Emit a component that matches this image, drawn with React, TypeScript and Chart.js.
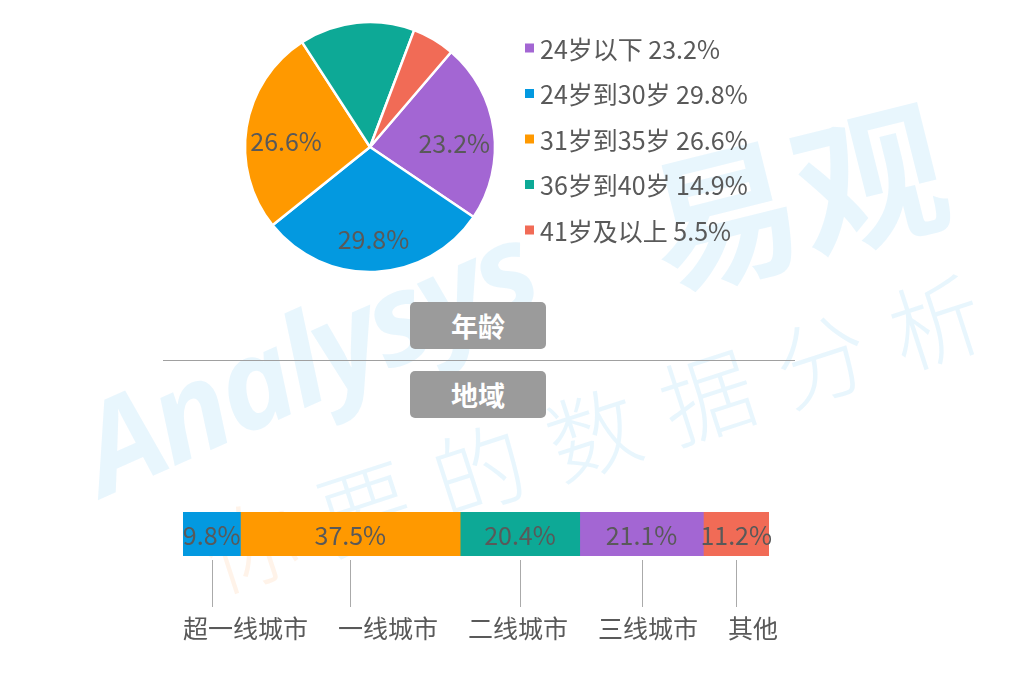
import React, { useEffect, useRef } from "react";
import { Chart, registerables } from "chart.js";

Chart.register(...registerables);

// ---------- data ----------
const ageLabels = ["24岁以下", "24岁到30岁", "31岁到35岁", "36岁到40岁", "41岁及以上"];
const ageValues = [23.2, 29.8, 26.6, 14.9, 5.5];
const ageColors = ["#A366D3", "#0399E0", "#FF9900", "#0DA996", "#F16B56"];
const ageLabelShown = [true, true, true, false, false];

const regionLabels = ["超一线城市", "一线城市", "二线城市", "三线城市", "其他"];
const regionValues = [9.8, 37.5, 20.4, 21.1, 11.2];
const regionColors = ["#0399E0", "#FF9900", "#0DA996", "#A366D3", "#F16B56"];

const sectionTitles = ["年龄", "地域"];

const FONT = '"Microsoft YaHei", "Noto Sans CJK SC", "Noto Sans", sans-serif';
const TEXT = "#595959";

const pieExtras = {
  id: "pieExtras",
  afterDatasetsDraw(chart: any) {
    const ctx = chart.ctx;
    const meta = chart.getDatasetMeta(0);
    ctx.save();
    ctx.font = `25px ${FONT}`;
    ctx.fillStyle = TEXT;
    ctx.textAlign = "center";
    ctx.textBaseline = "middle";
    let cx = 0;
    let cy = 0;
    meta.data.forEach((arc: any, i: number) => {
      const p = arc.getProps(["x", "y", "startAngle", "endAngle", "outerRadius"], true);
      cx = p.x;
      cy = p.y;
      if (!ageLabelShown[i]) return;
      const mid = (p.startAngle + p.endAngle) / 2;
      const r = p.outerRadius * 0.68;
      ctx.fillText(`${ageValues[i]}%`, p.x + Math.cos(mid) * r, p.y + Math.sin(mid) * r + 8);
    });
    // legend
    const lx = cx + 155;
    const ly0 = cy - 99;
    const step = 45.5;
    ctx.textAlign = "left";
    ageLabels.forEach((lab, i) => {
      const y = ly0 + i * step;
      ctx.fillStyle = ageColors[i];
      ctx.fillRect(lx, y - 4.5, 9, 9);
      ctx.fillStyle = TEXT;
      ctx.fillText(`${lab} ${ageValues[i]}%`, lx + 15, y + 1);
    });
    ctx.restore();
  },
};

const barExtras = {
  id: "barExtras",
  afterDatasetsDraw(chart: any) {
    const ctx = chart.ctx;
    const area = chart.chartArea;
    ctx.save();
    ctx.font = `25px ${FONT}`;
    ctx.textBaseline = "middle";
    let flowX = area.left;
    regionLabels.forEach((lab, i) => {
      const bar = chart.getDatasetMeta(i).data[0];
      const p = bar.getProps(["x", "y", "base", "height"], true);
      const mid = (p.x + p.base) / 2;
      const bottom = p.y + p.height / 2;
      ctx.fillStyle = TEXT;
      ctx.textAlign = "center";
      ctx.fillText(`${regionValues[i]}%`, mid, p.y + 1);
      // leader line
      ctx.strokeStyle = "#AAAAAA";
      ctx.lineWidth = 1;
      ctx.beginPath();
      ctx.moveTo(Math.round(mid) + 0.5, bottom + 4);
      ctx.lineTo(Math.round(mid) + 0.5, bottom + 51);
      ctx.stroke();
      // category label (flow layout)
      ctx.textAlign = "left";
      ctx.fillText(lab, flowX, bottom + 72);
      flowX += ctx.measureText(lab).width + 30;
    });
    ctx.restore();
  },
};

function PieChart() {
  const ref = useRef<HTMLCanvasElement>(null);
  useEffect(() => {
    if (!ref.current) return;
    const chart = new Chart(ref.current, {
      type: "pie",
      data: {
        labels: ageLabels,
        datasets: [
          {
            data: ageValues,
            backgroundColor: ageColors,
            borderColor: "#FFFFFF",
            borderWidth: 2.5,
            hoverOffset: 0,
          },
        ],
      },
      options: {
        animation: false,
        responsive: false,
        rotation: 40.5,
        radius: 125,
        layout: { padding: { left: 230, right: 499, top: 7, bottom: 13 } },
        plugins: { legend: { display: false }, tooltip: { enabled: false } },
        events: [],
      } as any,
      plugins: [pieExtras],
    });
    return () => chart.destroy();
  }, []);
  return (
    <canvas
      ref={ref}
      width={1009}
      height={300}
      style={{ position: "absolute", left: 0, top: 0, width: 1009, height: 300 }}
    />
  );
}

function BarChart() {
  const ref = useRef<HTMLCanvasElement>(null);
  useEffect(() => {
    if (!ref.current) return;
    const chart = new Chart(ref.current, {
      type: "bar",
      data: {
        labels: ["地域"],
        datasets: regionLabels.map((lab, i) => ({
          label: lab,
          data: [regionValues[i]],
          backgroundColor: regionColors[i],
          borderWidth: 0,
          barPercentage: 1,
          categoryPercentage: 1,
        })),
      },
      options: {
        animation: false,
        responsive: false,
        indexAxis: "y",
        layout: { padding: { left: 183, right: 240, top: 32, bottom: 104 } },
        scales: {
          x: { stacked: true, display: false, min: 0, max: 100 },
          y: { stacked: true, display: false },
        },
        plugins: { legend: { display: false }, tooltip: { enabled: false } },
        events: [],
      } as any,
      plugins: [barExtras],
    });
    return () => chart.destroy();
  }, []);
  return (
    <canvas
      ref={ref}
      width={1009}
      height={180}
      style={{ position: "absolute", left: 0, top: 480, width: 1009, height: 180 }}
    />
  );
}

const wmBlue = "rgba(0,150,230,0.09)";
const wmOrange = "rgba(255,140,40,0.10)";

function Watermark() {
  const base: React.CSSProperties = {
    position: "absolute",
    whiteSpace: "nowrap",
    transform: "translate(-50%, -50%)",
    lineHeight: 1,
    userSelect: "none",
  };
  return (
    <div style={{ position: "absolute", left: 0, top: 0, width: 1009, height: 674, overflow: "hidden" }}>
      <div
        style={{
          ...base,
          left: 305,
          top: 355,
          transform: "translate(-50%, -50%) rotate(-24deg)",
          fontFamily: '"Open Sans", sans-serif',
          fontWeight: 700,
          fontStyle: "italic",
          fontSize: 125,
          color: wmBlue,
          letterSpacing: -4,
        }}
      >
        Analysys
      </div>
      <div
        style={{
          ...base,
          left: 795,
          top: 190,
          transform: "translate(-50%, -50%) rotate(-14deg)",
          fontFamily: '"Noto Sans CJK SC", sans-serif',
          fontWeight: 700,
          fontSize: 150,
          color: wmBlue,
        }}
      >
        易观
      </div>
      <div
        style={{
          ...base,
          left: 605,
          top: 425,
          transform: "translate(-50%, -50%) rotate(-18deg)",
          fontFamily: '"Noto Sans CJK SC", sans-serif',
          fontWeight: 300,
          fontSize: 92,
          color: wmBlue,
          letterSpacing: 28,
        }}
      >
        <span style={{ color: wmOrange }}>你</span>要的数据分析
      </div>
    </div>
  );
}

function SectionBox({ text, top, height }: { text: string; top: number; height: number }) {
  return (
    <div
      style={{
        position: "absolute",
        left: 410,
        top,
        width: 136,
        height,
        background: "#9B9B9B",
        borderRadius: 5,
        color: "#FFFFFF",
        fontFamily: FONT,
        fontWeight: 700,
        fontSize: 27,
        display: "flex",
        alignItems: "center",
        justifyContent: "center",
      }}
    >
      {text}
    </div>
  );
}

export default function App() {
  return (
    <div
      style={{
        position: "absolute",
        left: 0,
        top: 0,
        width: 1009,
        height: 674,
        background: "#FFFFFF",
        overflow: "hidden",
      }}
    >
      <Watermark />
      <PieChart />
      <SectionBox text={sectionTitles[0]} top={302} height={47} />
      <div style={{ position: "absolute", left: 163, top: 360, width: 632, height: 1, background: "#A0A0A0" }} />
      <SectionBox text={sectionTitles[1]} top={371} height={47} />
      <BarChart />
    </div>
  );
}
